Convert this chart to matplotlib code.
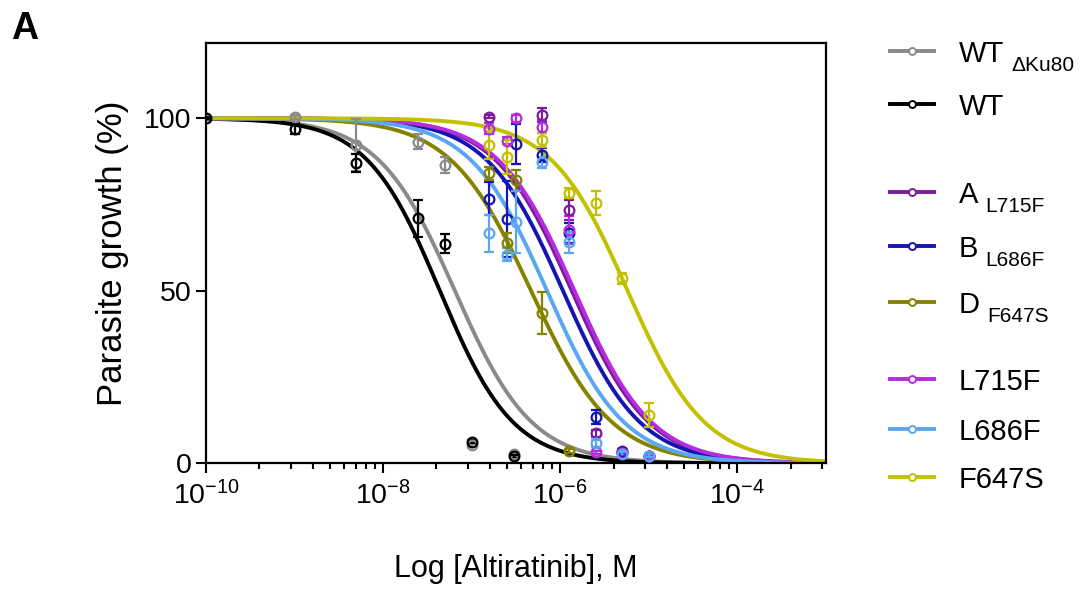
import numpy as np
import matplotlib
matplotlib.use('Agg')
import matplotlib.pyplot as plt
from matplotlib.lines import Line2D
from matplotlib.ticker import FixedLocator, LogFormatterMathtext, NullFormatter

plt.rcParams['font.family'] = ['Liberation Sans', 'DejaVu Sans']
plt.rcParams['mathtext.fontset'] = 'custom'
plt.rcParams['mathtext.rm'] = 'Liberation Sans'
plt.rcParams['mathtext.it'] = 'Liberation Sans:italic'
plt.rcParams['mathtext.bf'] = 'Liberation Sans:bold'
plt.rcParams['mathtext.default'] = 'regular'
plt.rcParams['axes.unicode_minus'] = False

# ---------------- data ----------------
legend_main = ['WT', 'WT', 'A', 'B', 'D', 'L715F', 'L686F', 'F647S']
legend_sub = ['ΔKu80', '', 'L715F', 'L686F', 'F647S', '', '', '']
colors = ['#8a8a8a', '#000000', '#7d1a9e', '#1515b4', '#858200',
          '#b42be0', '#5aa6f2', '#c3c000']

# fitted dose-response parameters (log10 IC50, Hill slope)
log_ic50 = [-7.19, -7.36, -5.87, -5.97, -6.33, -5.84, -6.15, -5.24]
hill = [1.0, 1.05, 1.0, 1.0, 0.95, 1.0, 1.0, 1.0]

# wild-type concentrations (M)
conc_wt = [1e-10, 1e-9, 5e-9, 2.5e-8, 5e-8, 1e-7, 3e-7]
wtku80_y = [100, 100.3, 92.2, 93.2, 86.5, 5.2, 2.6]
wtku80_err = [0.3, 0.5, 7.5, 2.2, 2.3, 0.4, 0.4]
wt_y = [100, 97.0, 87.1, 71.0, 63.6, 6.3, 2.0]
wt_err = [0.3, 1.5, 2.6, 5.3, 2.8, 0.4, 0.4]

# mutant concentrations (M)
conc_mut = [1.5625e-7, 2.5e-7, 3.125e-7, 6.25e-7, 1.25e-6, 2.5e-6, 5e-6, 1e-5]
nan = np.nan
a_y = [100.5, nan, nan, 100.9, 73.4, 8.7, 3.6, 2.0]
a_err = [0.5, nan, nan, 2.0, 3.0, 1.0, 0.5, 0.5]
b_y = [76.7, 70.8, 92.4, 89.3, 66.7, 13.5, 3.4, 2.1]
b_err = [4.8, 11.0, 5.8, 2.0, 3.0, 2.0, 0.8, 0.5]
d_y = [84.0, 63.8, 82.0, 43.5, 3.5, nan, nan, nan]
d_err = [2.0, 3.0, 3.0, 6.0, 0.5, nan, nan, nan]
l715_y = [97.0, 93.5, 100.0, 97.6, 67.6, 3.2, 3.0, 2.0]
l715_err = [1.5, 1.0, 1.0, 2.0, 4.0, 0.5, 0.5, 0.5]
l686_y = [66.6, 60.5, 70.0, 87.2, 64.0, 5.8, 2.8, 2.2]
l686_err = [5.3, 2.0, 9.0, 1.5, 3.0, 1.0, 0.5, 0.5]
f647_y = [92.3, 88.7, nan, 93.7, 78.4, 75.5, 53.6, 14.0]
f647_err = [4.0, 5.0, nan, 2.0, 1.5, 3.4, 1.5, 3.6]

series_x = [conc_wt, conc_wt] + [conc_mut] * 6
series_y = [wtku80_y, wt_y, a_y, b_y, d_y, l715_y, l686_y, f647_y]
series_err = [wtku80_err, wt_err, a_err, b_err, d_err, l715_err, l686_err, f647_err]

x_ticks = [1e-10, 1e-8, 1e-6, 1e-4]
y_ticks = [0, 50, 100]

# ---------------- figure ----------------
W, H = 1086, 592
fig = plt.figure(figsize=(W / 100, H / 100), dpi=100)
ax = fig.add_axes([206 / W, 1 - 463.3 / H, (826 - 206) / W, (463.3 - 43) / H])

xfit = np.logspace(-10, -3, 500)
for i in range(len(colors)):
    yfit = 100.0 / (1 + 10 ** (hill[i] * (np.log10(xfit) - log_ic50[i])))
    ax.plot(xfit, yfit, color=colors[i], lw=2.8, zorder=2 + i * 0.01, solid_capstyle='butt')

for i in range(len(colors)):
    x = np.array(series_x[i], float)
    y = np.array(series_y[i], float)
    e = np.array(series_err[i], float)
    m = ~np.isnan(y)
    ax.errorbar(x[m], y[m], yerr=e[m], fmt='o', ms=7, mfc='none', mec=colors[i],
                mew=1.6, ecolor=colors[i], elinewidth=1.6, capsize=3.5, capthick=1.6,
                zorder=3 + i * 0.01)

ax.set_xscale('log')
ax.set_xlim(1e-10, 1e-3)
ax.set_ylim(0, 121.8)
ax.xaxis.set_major_locator(FixedLocator(x_ticks))
ax.xaxis.set_major_formatter(LogFormatterMathtext())
minor = [k ** 2 * 10.0 ** m for m in (-10, -8, -6, -4) for k in range(2, 10)]
minor = [v for v in minor if v <= 1e-3]
ax.xaxis.set_minor_locator(FixedLocator(minor))
ax.xaxis.set_minor_formatter(NullFormatter())
ax.set_yticks(y_ticks)

for s in ax.spines.values():
    s.set_linewidth(1.6)
ax.tick_params(axis='both', which='major', direction='out', length=7.5, width=1.5,
               labelsize=20.5)
ax.tick_params(axis='x', which='major', pad=5)
ax.tick_params(axis='y', which='major', pad=3)
ax.tick_params(axis='x', which='minor', direction='out', length=4.5, width=1.5)

ax.set_xlabel('Log [Altiratinib], M', fontsize=22, labelpad=32)
ax.set_ylabel('Parasite growth (%)', fontsize=25, labelpad=11)

fig.text(11 / W, 1 - 39 / H, 'A', fontsize=27, fontweight='bold', ha='left', va='baseline')

# ---------------- legend ----------------
leg_y = [50.7, 104, 192, 246, 301.7, 379, 428.7, 476.7]
for i in range(len(colors)):
    yf = 1 - leg_y[i] / H
    fig.add_artist(Line2D([890 / W, 934 / W], [yf, yf], color=colors[i], lw=2.8,
                          transform=fig.transFigure))
    fig.add_artist(Line2D([912 / W], [yf], color=colors[i], marker='o', ms=5,
                          mfc='white', mew=1.4, transform=fig.transFigure))
    t = fig.text(959 / W, yf, legend_main[i], fontsize=21, ha='left', va='center_baseline')
    if legend_sub[i]:
        ax.annotate(legend_sub[i], xy=(1, 0), xycoords=t, xytext=(5, -5),
                    textcoords='offset points', fontsize=15, ha='left', va='bottom',
                    annotation_clip=False)

fig.savefig('out.png', dpi=100)
